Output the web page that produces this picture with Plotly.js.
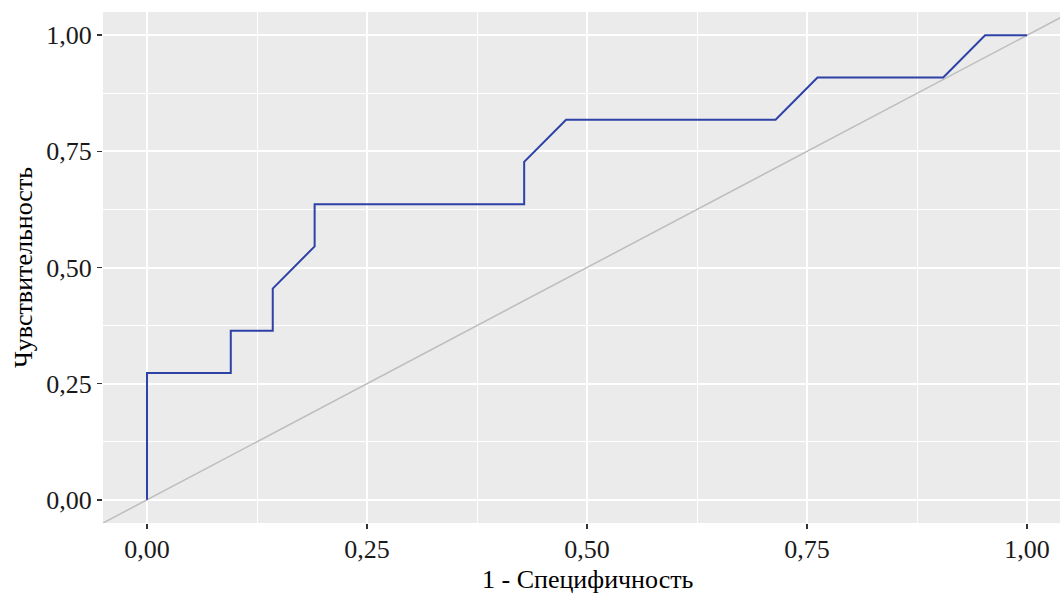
<!DOCTYPE html>
<html>
<head>
<meta charset="utf-8">
<script src="https://cdn.plot.ly/plotly-3.0.1.min.js"></script>
<style>html,body{margin:0;padding:0;background:#fff;}#chart{width:1060px;height:594px;}</style>
</head>
<body>
<div id="chart"></div>
<script>
// ROC curve: 1 - specificity (x) vs sensitivity (y)
const fpr = [0, 0, 0.0952, 0.0952, 0.1429, 0.1429, 0.1905, 0.1905, 0.4286, 0.4286, 0.4762, 0.7143, 0.7619, 0.9048, 0.9524, 1.0];
const tpr = [0, 0.2727, 0.2727, 0.3636, 0.3636, 0.4545, 0.5455, 0.6364, 0.6364, 0.7273, 0.8182, 0.8182, 0.9091, 0.9091, 1.0, 1.0];
const diagX = [-0.2, 1.2];
const diagY = [-0.2, 1.2];
const tickVals = [0, 0.25, 0.5, 0.75, 1];
const tickLabels = ["0,00", "0,25", "0,50", "0,75", "1,00"];
const minorVals = [0.125, 0.375, 0.625, 0.875];
const xTitle = "1 - Специфичность";
const yTitle = "Чувствительность";

const font = "'Liberation Serif', 'Times New Roman', serif";

const traces = [
  {x: diagX, y: diagY, mode: "lines", line: {color: "#bdbdbd", width: 1.5}, hoverinfo: "skip", showlegend: false},
  {x: fpr, y: tpr, mode: "lines", line: {color: "#2e41a6", width: 2}, showlegend: false}
];

function axis(title, range) {
  return {
    range: range,
    tickvals: tickVals,
    ticktext: tickLabels,
    ticks: "outside",
    ticklen: 5,
    tickwidth: 1.5,
    tickcolor: "#333",
    tickfont: {family: font, size: 26, color: "#1a1a1a"},
    showgrid: true,
    gridcolor: "#ffffff",
    gridwidth: 2,
    minor: {tickvals: minorVals, showgrid: true, gridcolor: "#ffffff", gridwidth: 1, ticks: ""},
    zeroline: false,
    showline: false,
    title: {text: title, font: {family: font, size: 26, color: "#000"}, standoff: 8},
    fixedrange: true
  };
}

const xa = axis("", [-0.05, 1.0375]);
xa.ticklabelstandoff = -2;
const ya = axis(yTitle, [-0.05, 1.05]);
ya.title.standoff = 6;

const layout = {
  width: 1060, height: 594,
  margin: {l: 103, r: 0, t: 12, b: 71},
  paper_bgcolor: "#ffffff",
  plot_bgcolor: "#ebebeb",
  xaxis: xa,
  yaxis: ya,
  showlegend: false,
  annotations: [{
    text: xTitle, xref: "paper", yref: "paper", x: 0.5068, y: -0.111,
    xanchor: "center", yanchor: "middle", showarrow: false,
    font: {family: font, size: 26, color: "#000"}
  }]
};

Plotly.newPlot("chart", traces, layout, {displayModeBar: false, staticPlot: true});
</script>
</body>
</html>
